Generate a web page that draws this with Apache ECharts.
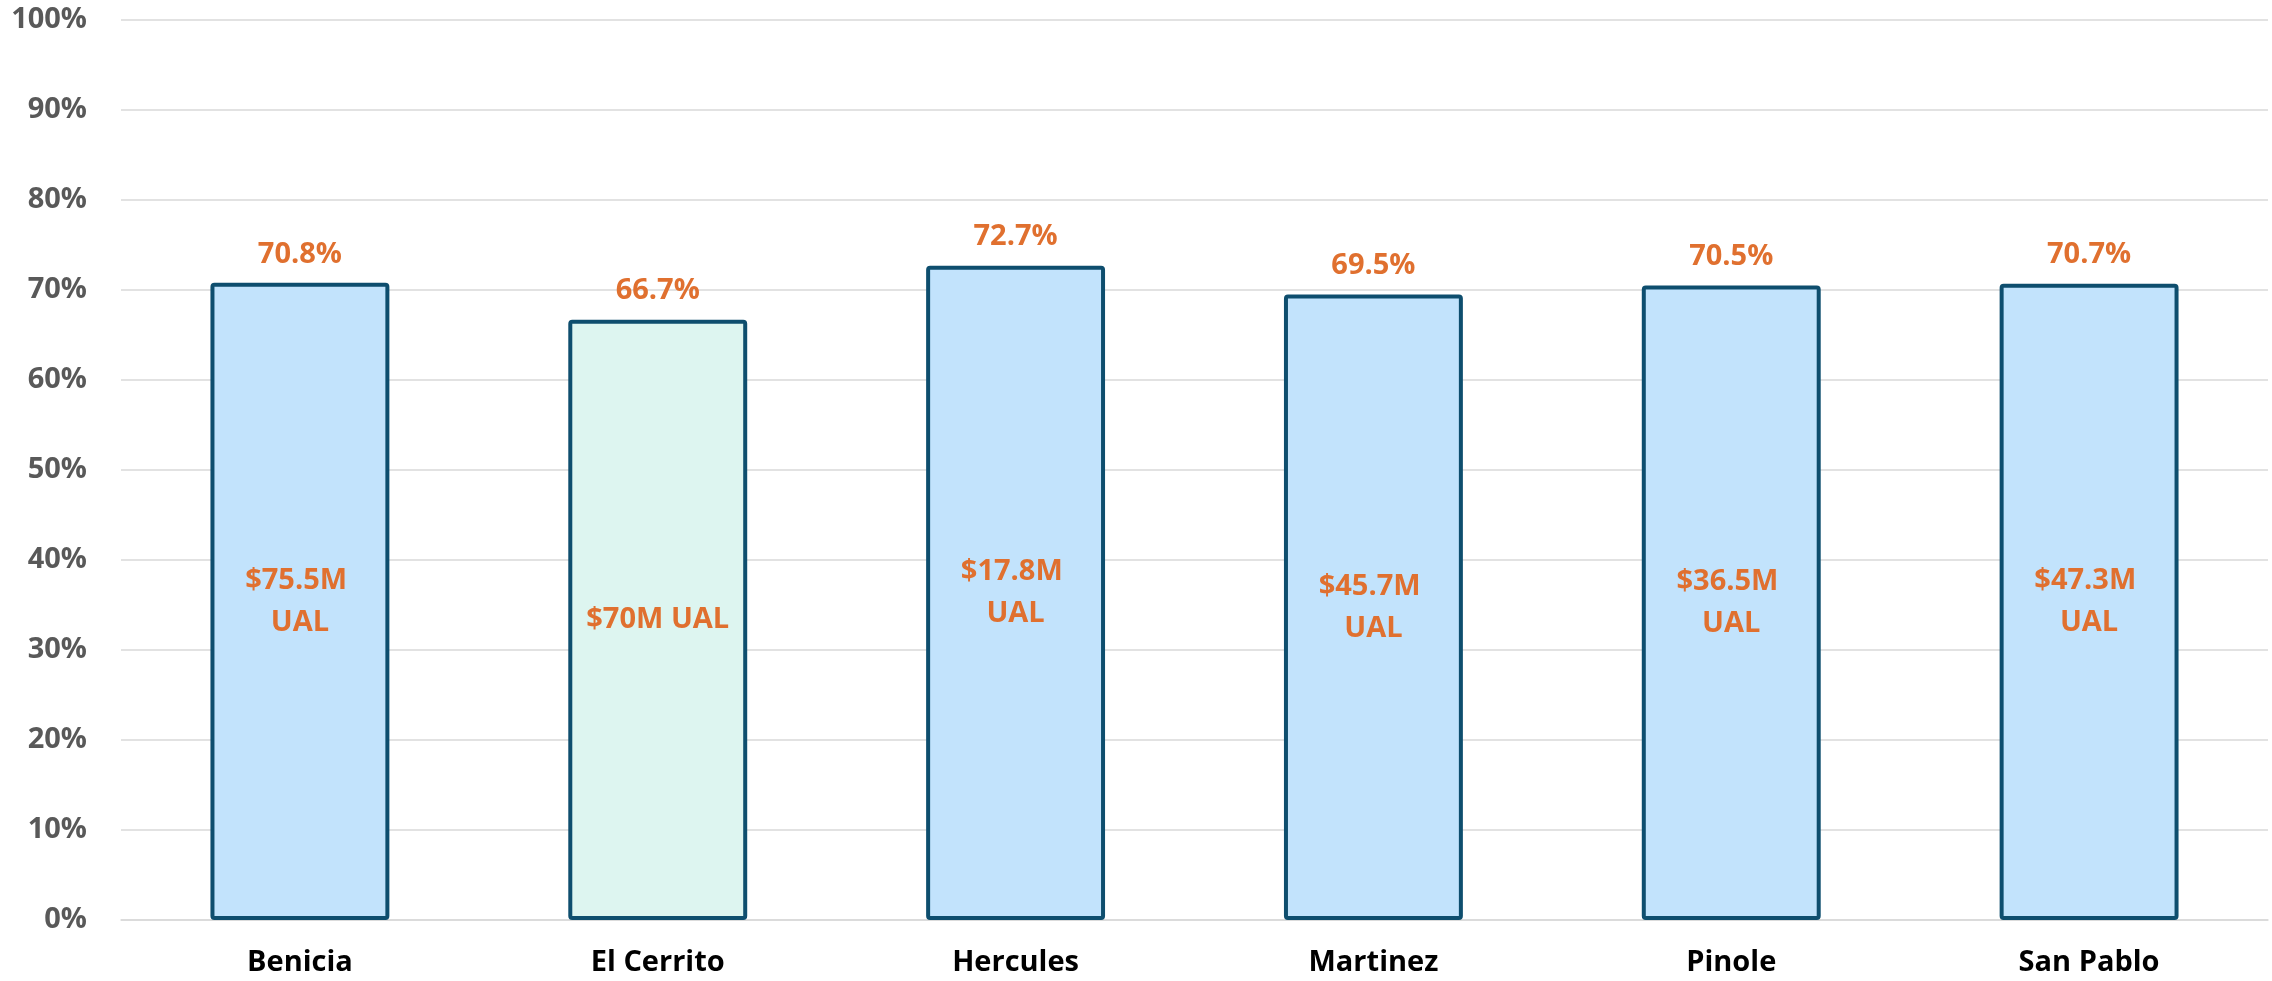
<!DOCTYPE html>
<html>
<head>
<meta charset="utf-8">
<script src="https://cdn.jsdelivr.net/npm/echarts@6/dist/echarts.min.js"></script>
<style>
  html, body { margin: 0; padding: 0; background: #fff; }
  #chart { width: 2272px; height: 981px; }
</style>
</head>
<body>
<div id="chart"></div>
<script>
  // funded ratio by city
  var cities = ['Benicia', 'El Cerrito', 'Hercules', 'Martinez', 'Pinole', 'San Pablo']
  var fundedPct = [70.8, 66.7, 72.7, 69.5, 70.5, 70.7]
  var ualLabels = ['$75.5M UAL', '$70M UAL', '$17.8M UAL', '$45.7M UAL', '$36.5M UAL', '$47.3M UAL']
  var highlightCity = 'El Cerrito'

  var font = '"Open Sans", "Noto Sans", sans-serif'
  var orange = '#E0702F'

  var chart = echarts.init(document.getElementById('chart'))
  var options = {
    animation: false,
    grid: {
      left: 121,
      right: 4,
      top: 20,
      bottom: 61,
      containLabel: false
    },
    xAxis: {
      type: 'category',
      data: cities,
      axisTick: { show: false },
      axisLine: { show: true, lineStyle: { color: '#D9D9D9', width: 1.5 } },
      axisLabel: {
        color: '#000',
        fontFamily: font,
        fontWeight: 'bold',
        fontSize: 29,
        margin: 28
      }
    },
    yAxis: {
      type: 'value',
      min: 0,
      max: 100,
      interval: 10,
      axisLine: { show: false },
      axisTick: { show: false },
      splitLine: { lineStyle: { color: '#D9D9D9', width: 1.5 } },
      axisLabel: {
        formatter: '{value}%',
        color: '#595959',
        fontFamily: font,
        fontWeight: 'bold',
        fontSize: 29,
        margin: 34
      }
    },
    series: [
      {
        type: 'bar',
        data: fundedPct,
        barWidth: '50%',
        itemStyle: {
          color: function (p) {
            return cities[p.dataIndex] === highlightCity ? '#DDF5F0' : '#C2E3FC'
          },
          borderColor: '#0E4E6E',
          borderWidth: 4,
          borderRadius: 2
        },
        label: {
          show: true,
          position: 'top',
          distance: 14,
          formatter: function (p) { return p.value.toFixed(1) + '%' },
          color: orange,
          fontFamily: font,
          fontWeight: 'bold',
          fontSize: 29
        }
      },
      {
        type: 'bar',
        data: fundedPct,
        barWidth: '50%',
        barGap: '-100%',
        silent: true,
        itemStyle: { color: 'transparent', borderWidth: 0 },
        label: {
          show: true,
          position: 'inside',
          formatter: function (p) { return ualLabels[p.dataIndex] },
          width: 150,
          overflow: 'break',
          lineHeight: 42,
          align: 'center',
          color: orange,
          fontFamily: font,
          fontWeight: 'bold',
          fontSize: 29
        }
      }
    ]
  }
  chart.setOption(options, true)
</script>
</body>
</html>
